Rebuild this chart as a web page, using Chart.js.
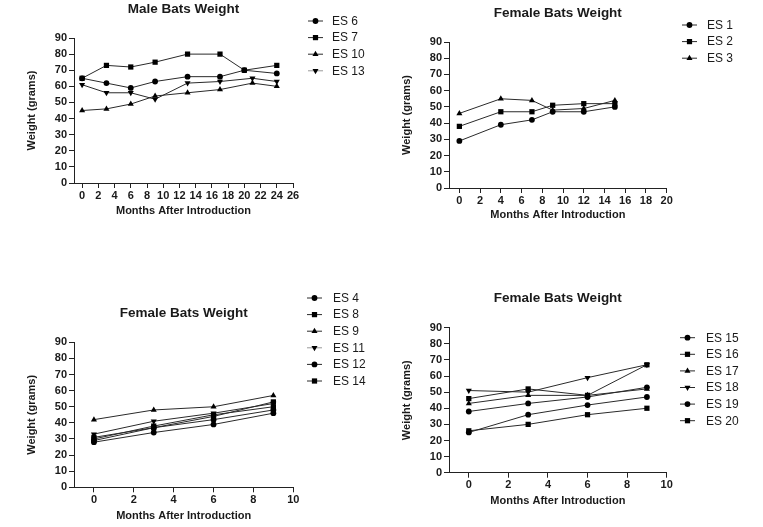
<!DOCTYPE html>
<html>
<head>
<meta charset="utf-8">
<script src="https://cdn.jsdelivr.net/npm/chart.js@4.4.1/dist/chart.umd.min.js"></script>
<style>
  html, body { margin: 0; padding: 0; background: #fff; }
  #wrap { position: relative; width: 763px; height: 527px; }
  canvas { position: absolute; }
</style>
</head>
<body>
<div id="wrap">
  <canvas id="c1" width="380" height="230" style="left:0;top:0"></canvas>
  <canvas id="c2" width="383" height="230" style="left:380px;top:0"></canvas>
  <canvas id="c3" width="380" height="247" style="left:0;top:280px"></canvas>
  <canvas id="c4" width="383" height="247" style="left:380px;top:280px"></canvas>
</div>
<script>
// ─── Data ────────────────────────────────────────────────
const yTicks = [0, 10, 20, 30, 40, 50, 60, 70, 80, 90];

// male bats (ES 10 / ES 13 were weighed a month later near the end)
const maleTicks = [0, 2, 4, 6, 8, 10, 12, 14, 16, 18, 20, 22, 24, 26];
const maleMonthsA = [0, 3, 6, 9, 13, 17, 20, 24];
const maleMonthsB = [0, 3, 6, 9, 13, 17, 21, 24];
const es6  = [65, 62, 59, 63, 66, 66, 70, 68];
const es7  = [65, 73, 72, 75, 80, 80, 70, 73];
const es10 = [45, 46, 49, 54, 56, 58, 62, 60];
const es13 = [61, 56, 56, 52, 62, 63, 65, 63];

// female bats, group 1
const fem1Ticks = [0, 2, 4, 6, 8, 10, 12, 14, 16, 18, 20];
const fem1Months = [0, 4, 7, 9, 12, 15];
const es1 = [29, 39, 42, 47, 47, 50];
const es2 = [38, 47, 47, 51, 52, 52];
const es3 = [46, 55, 54, 48, 49, 54];

// female bats, groups 2 and 3
const shortTicks = [0, 2, 4, 6, 8, 10];
const shortMonths = [0, 3, 6, 9];
const es4  = [28, 34, 39, 46];
const es8  = [30, 38, 45, 50];
const es9  = [42, 48, 50, 57];
const es11 = [33, 41, 46, 52];
const es12 = [29, 37, 42, 48];
const es14 = [31, 37, 44, 53];

const es15 = [25, 36, 42, 47];
const es16 = [46, 52, 48, 67];
const es17 = [43, 48, 48, 52];
const es18 = [51, 50, 59, 67];
const es19 = [38, 43, 47, 53];
const es20 = [26, 30, 36, 40];

// ─── Helpers ─────────────────────────────────────────────
const FONT = '"Liberation Sans", Arial, sans-serif';
const INK = '#1a1a1a';

const MARKERS = {
  circle:   { pointStyle: 'circle',   pointRadius: 2.9, pointRotation: 0 },
  square:   { pointStyle: 'rect',     pointRadius: 3.7, pointRotation: 0 },
  triangle: { pointStyle: 'triangle', pointRadius: 3.5, pointRotation: 0 },
  down:     { pointStyle: 'triangle', pointRadius: 3.5, pointRotation: 180 },
};

function series(label, xs, ys, marker, legendLine) {
  return Object.assign({
    label,
    data: xs.map((x, i) => ({ x, y: ys[i] })),
    borderColor: '#2a2a2a',
    borderWidth: 1,
    backgroundColor: '#000',
    pointBorderWidth: 0,
    pointHoverRadius: 3,
    legendLine: legendLine || '#2a2a2a',
    tension: 0,
    clip: false,
  }, MARKERS[marker]);
}

const sideLegend = {
  id: 'sideLegend',
  afterDraw(chart, args, opts) {
    const ctx = chart.ctx;
    ctx.save();
    chart.data.datasets.forEach((ds, i) => {
      const y = opts.top + i * opts.step;
      ctx.strokeStyle = ds.legendLine;
      ctx.lineWidth = 1;
      ctx.beginPath();
      ctx.moveTo(opts.left, y);
      ctx.lineTo(opts.left + 15, y);
      ctx.stroke();
      ctx.fillStyle = '#000';
      Chart.helpers.drawPoint(ctx, {
        pointStyle: ds.pointStyle,
        radius: ds.pointRadius,
        rotation: ds.pointRotation,
        borderWidth: 0
      }, opts.left + 7.5, y);
      ctx.fillStyle = INK;
      ctx.font = '12px ' + FONT;
      ctx.textBaseline = 'middle';
      ctx.textAlign = 'left';
      ctx.fillText(ds.label, opts.text, y + 0.5);
    });
    ctx.restore();
  }
};

function makeChart(id, cfg) {
  const tickFont = { family: FONT, size: 11, weight: 'bold' };
  const titleFont = { family: FONT, size: 11, weight: 'bold' };
  return new Chart(document.getElementById(id), {
    type: 'line',
    data: { datasets: cfg.datasets },
    plugins: [sideLegend],
    options: {
      responsive: false,
      animation: false,
      events: [],
      layout: { padding: cfg.padding },
      plugins: {
        legend: { display: false },
        tooltip: { enabled: false },
        title: {
          display: true,
          text: cfg.title,
          fullSize: false,
          color: INK,
          font: { family: FONT, size: 13.5, weight: 'bold' },
          padding: cfg.titlePad,
        },
        sideLegend: cfg.legend,
      },
      scales: {
        x: {
          type: 'linear',
          min: cfg.xMin,
          max: cfg.xMax,
          afterBuildTicks: s => { s.ticks = cfg.xTicks.map(v => ({ value: v })); },
          afterFit: s => { s.height = cfg.xHeight; },
          grid: { drawOnChartArea: false, drawTicks: true, tickLength: 5, color: '#222' },
          border: { color: '#222', width: 1 },
          ticks: { color: INK, font: tickFont, padding: 1, maxRotation: 0, autoSkip: false },
          title: { display: true, text: 'Months After Introduction', color: INK, font: titleFont, padding: 4 },
        },
        y: {
          min: 0,
          max: 90,
          afterBuildTicks: s => { s.ticks = yTicks.map(v => ({ value: v })); },
          afterFit: s => { s.width = cfg.yWidth; },
          grid: { drawOnChartArea: false, drawTicks: true, tickLength: 5, color: '#222' },
          border: { color: '#222', width: 1 },
          ticks: { color: INK, font: tickFont, padding: 2, autoSkip: false },
          title: { display: true, text: 'Weight (grams)', color: INK, font: titleFont, padding: 4 },
        }
      }
    }
  });
}

// ─── Charts ──────────────────────────────────────────────
makeChart('c1', {
  title: 'Male Bats Weight',
  titlePad: { top: 1.4, bottom: 20.4 },
  padding: { left: 21.4, right: 87, top: 0, bottom: 8.1 },
  yWidth: 52.6, xHeight: 38.9,
  xMin: -1, xMax: 26, xTicks: maleTicks,
  legend: { left: 308, text: 332, top: 21, step: 16.6 },
  datasets: [
    series('ES 6', maleMonthsA, es6, 'circle'),
    series('ES 7', maleMonthsA, es7, 'square'),
    series('ES 10', maleMonthsB, es10, 'triangle'),
    series('ES 13', maleMonthsB, es13, 'down', '#999'),
  ]
});

makeChart('c2', {
  title: 'Female Bats Weight',
  titlePad: { top: 5.2, bottom: 20.6 },
  padding: { left: 16.1, right: 96.3, top: 0, bottom: 4.9 },
  yWidth: 52.9, xHeight: 37.1,
  xMin: -1, xMax: 20, xTicks: fem1Ticks,
  legend: { left: 302, text: 327, top: 25, step: 16.6 },
  datasets: [
    series('ES 1', fem1Months, es1, 'circle'),
    series('ES 2', fem1Months, es2, 'square'),
    series('ES 3', fem1Months, es3, 'triangle'),
  ]
});

makeChart('c3', {
  title: 'Female Bats Weight',
  titlePad: { top: 25.2, bottom: 20.9 },
  padding: { left: 21.1, right: 86.7, top: 0, bottom: 0.6 },
  yWidth: 52.9, xHeight: 39.1,
  xMin: -1, xMax: 10, xTicks: shortTicks,
  legend: { left: 307, text: 333, top: 18, step: 16.6 },
  datasets: [
    series('ES 4', shortMonths, es4, 'circle'),
    series('ES 8', shortMonths, es8, 'square'),
    series('ES 9', shortMonths, es9, 'triangle'),
    series('ES 11', shortMonths, es11, 'down', '#999'),
    series('ES 12', shortMonths, es12, 'circle'),
    series('ES 14', shortMonths, es14, 'square'),
  ]
});

makeChart('c4', {
  title: 'Female Bats Weight',
  titlePad: { top: 10.2, bottom: 21.3 },
  padding: { left: 16.1, right: 96.3, top: 0, bottom: 15.6 },
  yWidth: 52.9, xHeight: 38.7,
  xMin: -1, xMax: 10, xTicks: shortTicks,
  legend: { left: 300, text: 326, top: 57.7, step: 16.6 },
  datasets: [
    series('ES 15', shortMonths, es15, 'circle'),
    series('ES 16', shortMonths, es16, 'square'),
    series('ES 17', shortMonths, es17, 'triangle'),
    series('ES 18', shortMonths, es18, 'down'),
    series('ES 19', shortMonths, es19, 'circle'),
    series('ES 20', shortMonths, es20, 'square'),
  ]
});
</script>
</body>
</html>
